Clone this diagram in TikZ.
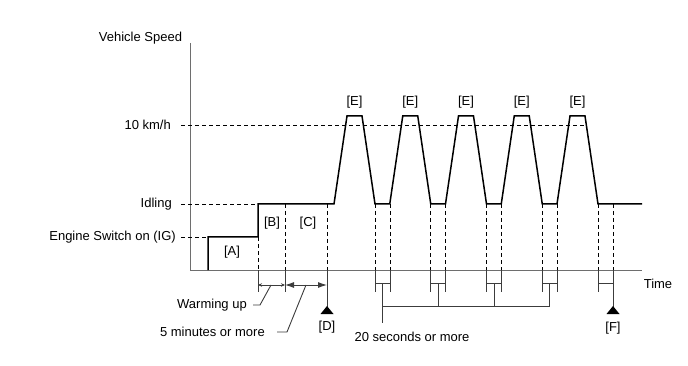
\documentclass[tikz,border=0pt]{standalone}
\usepackage{fontspec}
\setmainfont{Liberation Sans}
\usetikzlibrary{arrows.meta,positioning,calc}
\definecolor{axisgray}{RGB}{110,110,110}
\definecolor{tickgray}{RGB}{60,60,60}

\tikzset{
  lbl/.style={font=\fontsize{13}{15}\selectfont,inner sep=0pt},
  signal/.style={black,line width=1.5pt,line join=miter},
  guide/.style={black,line width=0.9pt,dash pattern=on 4pt off 3pt},
  tickline/.style={tickgray,line width=0.9pt},
}

\begin{document}
\begin{tikzpicture}[x=1pt,y=-1pt]
        \useasboundingbox (0,0) rectangle (688,366);
        \def\yTen{125}
        \def\yIdle{204}
        \def\yIG{237}
        \def\yT{270}
        % Axis
        \draw[axisgray,line width=0.9pt] (190,43) -- (190,\yT) -- (642,\yT);
        \node[lbl] (vspeed) at (140.5,38) {Vehicle Speed};
        \node[lbl,anchor=east] (ten)  at (171,\yTen) {10 km/h};
        \node[lbl,anchor=east] (idle) at (172,\yIdle) {Idling};
        \node[lbl,anchor=east] (ig)   at (176,\yIG) {Engine Switch on (IG)};
        \node[lbl] (time) at (658,284) {Time};
        % Levels
        \draw[guide] (181,\yTen) -- (585,\yTen);
        \draw[guide] (181,\yIdle) -- (258,\yIdle);
        \draw[guide] (181,\yIG) -- (208,\yIG);
        % Signal
        \draw[signal] (208,\yT) |- (258,\yIG) |- (334,\yIdle)
          foreach \k in {0,...,4} {-- ++(13,-88) -- ++(15,0) -- ++(13,88) -- ++(14.75,0)}
          -- (642,\yIdle);
        % Phases A-D
        \node[lbl] (A) at (232,252) {[A]};
        \node[lbl] (B) at (272,223) {[B]};
        \node[lbl] (C) at (308,223) {[C]};
        \draw[guide] (258,\yIG) -- (258,\yT);
        \draw[guide] (285,\yIdle) -- (285,\yT);
        \draw[guide] (327,\yIdle) -- (327,\yT);
        \draw[tickline] (258,\yT) -- (258,292);
        \draw[tickline] (285,\yT) -- (285,292);
        \draw[tickline] (327,\yT) -- (327,307);
        \fill (327,306) -- (333.5,314) -- (320.5,314) -- cycle;
        \node[lbl] (D) at (327,327) {[D]};
        \draw[tickline,{Stealth[length=4pt,width=3.5pt]}-{Stealth[length=4pt,width=3.5pt]}] (258,285) -- (285,285);
        \draw[tickline,{Latex[length=9pt,width=6pt]}-{Latex[length=9pt,width=6pt]}] (285,285) -- (327,285);
        \coordinate (warmmid) at (271,285);
        \coordinate (fivemid) at (306,285);
        \node[lbl,anchor=east] (warm) at (247,305) {Warming up};
        \node[lbl,anchor=east] (five) at (265,332) {5 minutes or more};
        \draw[tickline] (warm.east) ++(6,0) -- ++(7,0) -- (warmmid);
        \draw[tickline] (five.east) ++(12,0) -- ++(10,0) -- (fivemid);
        % Peaks E
        \foreach \k in {0,...,4} {
          \pgfmathsetmacro\s{334+55.75*\k}
          \node[lbl] (E\k) at (\s+20.5,102) {[E]};
          \draw[guide] (\s+41,\yIdle) -- (\s+41,\yT);
          \draw[guide] (\s+56,\yIdle) -- (\s+56,\yT);
          \draw[tickline] (\s+41,\yT) -- (\s+41,292);
          \draw[tickline] (\s+41,283) -- (\s+56,283);
        }
        \foreach \k in {0,...,3} {
          \pgfmathsetmacro\s{334+55.75*\k}
          \draw[tickline] (\s+56,\yT) -- (\s+56,292);
          \draw[tickline] (\s+48.5,283) -- (\s+48.5,306);
        }
        % 20 seconds bracket
        \draw[tickline] (382.5,306) -- (549.75,306);
        \draw[tickline] (382.5,306) -- (382.5,323);
        \node[lbl] (twenty) at (412,337) {20 seconds or more};
        % F
        \draw[tickline] (613,\yT) -- (613,307);
        \fill (613,306) -- (619.5,314) -- (606.5,314) -- cycle;
        \node[lbl] (F) at (613,328) {[F]};
\end{tikzpicture}
\end{document}
